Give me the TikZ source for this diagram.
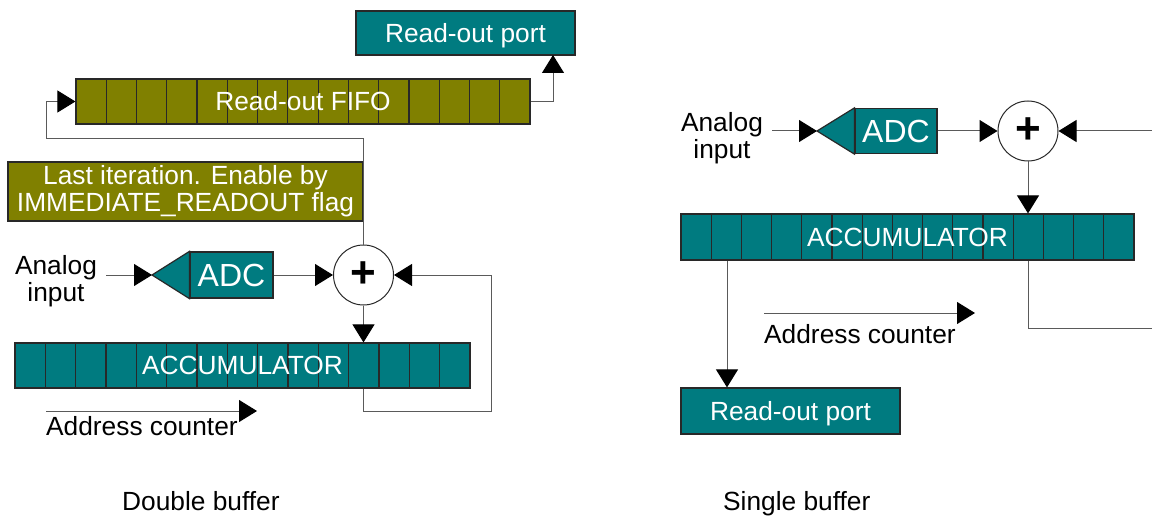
\documentclass[tikz,border=0pt]{standalone}
\usepackage{fontspec}
\setmainfont{Liberation Sans}
\usetikzlibrary{arrows.meta,calc}
\definecolor{tealc}{RGB}{0,123,128}
\definecolor{olivec}{RGB}{128,128,0}
\definecolor{edgec}{RGB}{40,40,40}
\definecolor{linec}{RGB}{90,90,90}
\begin{document}
\begin{tikzpicture}[x=1pt,y=-1pt,
  every node/.style={font=\fontsize{26.3}{27}\selectfont},
  box/.style={draw=edgec,line width=1.2pt,inner sep=0pt,text=white},
  tealbox/.style={box,fill=tealc},
  olivebox/.style={box,fill=olivec},
  capcenter/.style={text height=18.8pt,text depth=0pt},
  cellgrid/.style={path picture={\foreach \i in {1,...,14}{\draw[edgec,line width=1.2pt] ($(path picture bounding box.north west)!\i/15!(path picture bounding box.north east)$) -- ($(path picture bounding box.south west)!\i/15!(path picture bounding box.south east)$);}}},
  conn/.style={draw=linec,line width=1pt},
  arr/.style={conn,-{Triangle[length=18pt,width=22pt,color=black]}},
  sumnode/.style={circle,draw=edgec,line width=1pt,fill=white,minimum size=60pt,inner sep=0pt,font=\fontsize{44}{44}\selectfont\bfseries},
  lbl/.style={align=center,inner sep=0pt},
  adcfont/.style={font=\fontsize{32}{32}\selectfont},
  tri/.style={fill=tealc,draw=edgec,line width=1.2pt,line join=miter}
]
\useasboundingbox (0,0) rectangle (1152,516);

% ---------------- Double buffer ----------------
\node[tealbox,capcenter,minimum width=219pt,minimum height=44pt] (portL) at (465.5,33) {Read-out port};
\node[olivebox,cellgrid,minimum width=454pt,minimum height=45pt] (fifo) at (303,101.5) {Read-out FIFO};
\node[olivebox,minimum width=355pt,minimum height=59pt,align=center] (iter) at (185.5,191.5) {Last iteration. Enable by\\IMMEDIATE\_READOUT flag};
\node[lbl,inner xsep=9pt] (anaL) at (56,281) {Analog\\input};
\coordinate (tipL) at (152,275);
\node[tealbox,adcfont,minimum width=83pt,minimum height=46pt] (adcL) at (231.5,275) {ADC};
\filldraw[tri] (adcL.north west) -- (tipL) -- (adcL.south west) -- cycle;
\node[sumnode] (sumL) at (363.5,275) {+};
\node[tealbox,cellgrid,minimum width=455pt,minimum height=45pt] (accL) at (242.5,365.5) {ACCUMULATOR};
\coordinate (acL1) at (46,411);
\coordinate (acL2) at (257,411);
\node[anchor=base west,inner sep=0pt] (addrL) at (46,435) {Address counter};
\node[anchor=base west,inner sep=0pt] (dbl) at (122,510) {Double buffer};
\coordinate (fbL) at (491,411);
\coordinate (upL) at (46,139);
\coordinate (portIn) at (553,55);

\draw[arr] (anaL.east |- tipL) -- (tipL);
\draw[arr] (adcL) -- (sumL);
\draw[arr] (sumL) -- (sumL |- accL.north);
\draw[arr] (sumL |- accL.south) |- (fbL) |- (sumL.east);
\draw[arr] (sumL.north) |- (upL) |- (fifo.west);
\draw[arr] (fifo.east) -| (portIn);
\draw[arr] (acL1) -- (acL2);

% ---------------- Single buffer ----------------
\node[lbl,inner xsep=9pt] (anaR) at (722,138) {Analog\\input};
\coordinate (tipR) at (817,131);
\node[tealbox,adcfont,minimum width=82pt,minimum height=45pt] (adcR) at (896,131) {ADC};
\filldraw[tri] (adcR.north west) -- (tipR) -- (adcR.south west) -- cycle;
\node[sumnode] (sumR) at (1028,131) {+};
\node[tealbox,cellgrid,minimum width=453pt,minimum height=46pt] (accR) at (907.5,237) {ACCUMULATOR};
\node[tealbox,capcenter,minimum width=219pt,minimum height=46pt] (portR) at (790.5,411) {Read-out port};
\coordinate (inR) at (1152,131);
\coordinate (rdR) at (727,300);
\coordinate (outR) at (1152,328);
\coordinate (acR1) at (764,313);
\coordinate (acR2) at (975,313);
\node[anchor=base west,inner sep=0pt] (addrR) at (764,343) {Address counter};
\node[anchor=base west,inner sep=0pt] (sgl) at (723,510) {Single buffer};

\draw[arr] (anaR.east |- tipR) -- (tipR);
\draw[arr] (adcR) -- (sumR);
\draw[arr] (inR) -- (sumR.east);
\draw[arr] (sumR) -- (sumR |- accR.north);
\draw[arr] (accR.south -| rdR) -- (portR.north -| rdR);
\draw[conn] (accR.south -| sumR) |- (outR);
\draw[arr] (acR1) -- (acR2);
\end{tikzpicture}
\end{document}
